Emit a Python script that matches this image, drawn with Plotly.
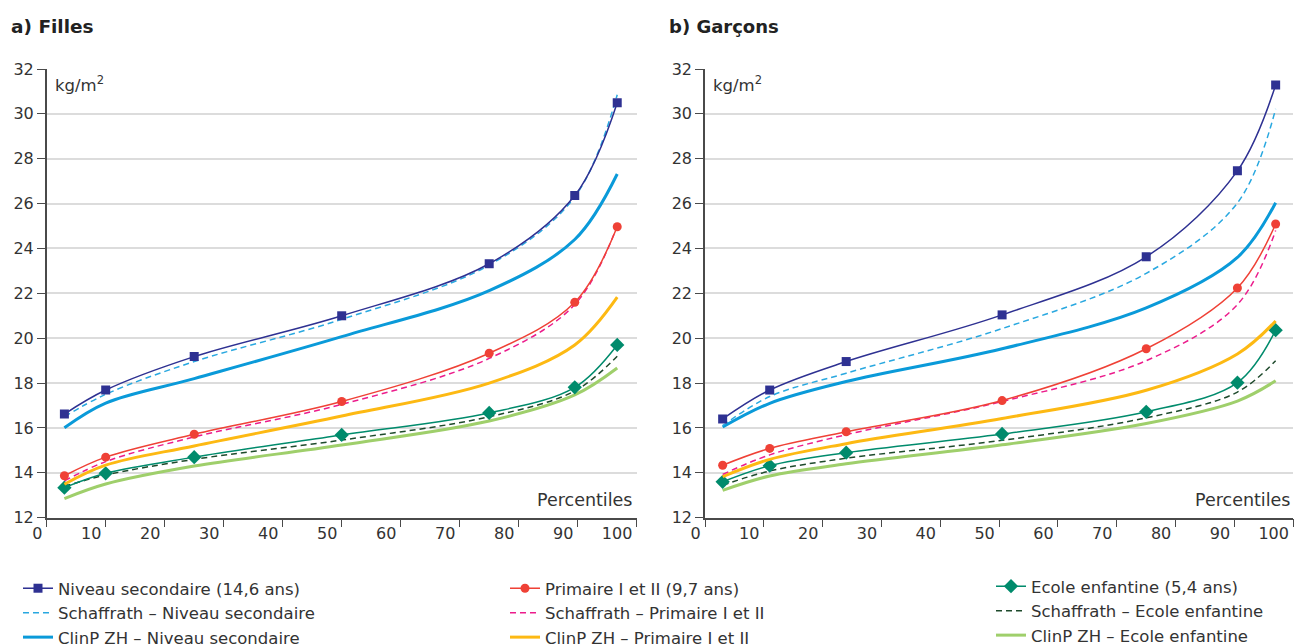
import plotly.graph_objects as go

# Percentile positions of the plotted points
pct_filles = [3, 10, 25, 50, 75, 89.5, 96.7]
pct_garcons = [3, 11, 24, 50.5, 75, 90.5, 97]

# a) Filles - BMI (kg/m2)
f_sec = [16.62, 17.69, 19.18, 21.0, 23.32, 26.36, 30.5]
f_sec_schaffrath = [16.5, 17.5, 18.96, 20.84, 23.26, 26.3, 30.85]
f_sec_clinp = [16.01, 17.11, 18.2, 20.07, 22.12, 24.4, 27.32]
f_prim = [13.87, 14.7, 15.72, 17.18, 19.33, 21.6, 24.97]
f_prim_schaffrath = [13.64, 14.5, 15.6, 17.05, 19.1, 21.5, 25.0]
f_prim_clinp = [13.49, 14.34, 15.2, 16.53, 18.0, 19.7, 21.83]
f_ecole = [13.34, 13.98, 14.7, 15.69, 16.67, 17.81, 19.7]
f_ecole_schaffrath = [13.4, 13.9, 14.6, 15.46, 16.5, 17.65, 19.2]
f_ecole_clinp = [12.85, 13.5, 14.3, 15.24, 16.31, 17.47, 18.67]

# b) Garcons - BMI (kg/m2)
g_sec = [16.4, 17.69, 18.96, 21.04, 23.63, 27.46, 31.29]
g_sec_schaffrath = [16.1, 17.4, 18.44, 20.43, 22.89, 26.03, 30.22]
g_sec_clinp = [16.04, 17.1, 18.07, 19.53, 21.35, 23.6, 26.04]
g_prim = [14.34, 15.09, 15.83, 17.22, 19.53, 22.24, 25.09]
g_prim_schaffrath = [13.93, 14.8, 15.7, 17.18, 19.0, 21.5, 24.8]
g_prim_clinp = [13.83, 14.6, 15.3, 16.42, 17.68, 19.3, 20.77]
g_ecole = [13.6, 14.32, 14.9, 15.73, 16.72, 18.02, 20.36]
g_ecole_schaffrath = [13.45, 14.08, 14.65, 15.45, 16.45, 17.6, 19.0]
g_ecole_clinp = [13.22, 13.86, 14.4, 15.25, 16.2, 17.2, 18.1]

x_ticks = list(range(0, 101, 10))
y_ticks = list(range(12, 33, 2))

names = {
    "sec": "Niveau secondaire (14,6 ans)",
    "sec_s": "Schaffrath – Niveau secondaire",
    "sec_c": "ClinP ZH – Niveau secondaire",
    "prim": "Primaire I et II (9,7 ans)",
    "prim_s": "Schaffrath – Primaire I et II",
    "prim_c": "ClinP ZH – Primaire I et II",
    "ecole": "Ecole enfantine (5,4 ans)",
    "ecole_s": "Schaffrath – Ecole enfantine",
    "ecole_c": "ClinP ZH – Ecole enfantine",
}

FONT = "'DejaVu Sans', sans-serif"
TXT = "#333333"
DASH = "6px,4px"

styles = {
    "sec": dict(color="#2E3192", width=1.5, dash="solid", marker="square", msize=9, legend="legend"),
    "sec_s": dict(color="#29A8E0", width=1.5, dash=DASH, marker=None, legend="legend"),
    "sec_c": dict(color="#0A9AD9", width=3, dash="solid", marker=None, legend="legend"),
    "prim": dict(color="#EF4136", width=1.5, dash="solid", marker="circle", msize=9, legend="legend2"),
    "prim_s": dict(color="#EC1C8C", width=1.5, dash=DASH, marker=None, legend="legend2"),
    "prim_c": dict(color="#FDB913", width=3, dash="solid", marker=None, legend="legend2"),
    "ecole": dict(color="#008B6C", width=1.5, dash="solid", marker="diamond", msize=11, legend="legend3"),
    "ecole_s": dict(color="#1E4A2C", width=1.5, dash=DASH, marker=None, legend="legend3"),
    "ecole_c": dict(color="#9FCF6B", width=3, dash="solid", marker=None, legend="legend3"),
}

panels = [
    ("x", "y", pct_filles, {
        "sec": f_sec, "sec_s": f_sec_schaffrath, "sec_c": f_sec_clinp,
        "prim": f_prim, "prim_s": f_prim_schaffrath, "prim_c": f_prim_clinp,
        "ecole": f_ecole, "ecole_s": f_ecole_schaffrath, "ecole_c": f_ecole_clinp}),
    ("x2", "y2", pct_garcons, {
        "sec": g_sec, "sec_s": g_sec_schaffrath, "sec_c": g_sec_clinp,
        "prim": g_prim, "prim_s": g_prim_schaffrath, "prim_c": g_prim_clinp,
        "ecole": g_ecole, "ecole_s": g_ecole_schaffrath, "ecole_c": g_ecole_clinp}),
]

# draw order: reference curves below the measured ones
order = ["ecole_c", "ecole_s", "ecole", "prim_c", "prim_s", "prim", "sec_c", "sec_s", "sec"]
legend_order = ["sec", "sec_s", "sec_c", "prim", "prim_s", "prim_c", "ecole", "ecole_s", "ecole_c"]

fig = go.Figure()
for pi, (xa, ya, pct, series) in enumerate(panels):
    for key in order:
        st = styles[key]
        mode = "lines+markers" if st["marker"] else "lines"
        tr = dict(
            x=pct, y=series[key], xaxis=xa, yaxis=ya, mode=mode,
            name=names[key], legend=st["legend"],
            legendrank=legend_order.index(key) + 1,
            showlegend=(pi == 0),
            line=dict(color=st["color"], width=st["width"], dash=st["dash"],
                      shape="spline", smoothing=1.0),
            hoverinfo="skip",
        )
        if st["marker"]:
            tr["marker"] = dict(symbol=st["marker"], size=st["msize"], color=st["color"])
        fig.add_trace(go.Scatter(**tr))

W, H = 1306, 644
def px_x(p):
    return p / W
def px_y(p):
    return 1 - p / H

axis_common = dict(
    showline=True, linecolor="#4A4A4A", linewidth=1.5,
    ticks="outside", ticklen=8, tickcolor="#4A4A4A", tickwidth=1.2,
    tickfont=dict(family=FONT, size=16, color=TXT),
    zeroline=False, fixedrange=True, automargin=False,
)
xaxis_common = dict(axis_common, range=[0, 100], tickvals=x_ticks, showgrid=False,
                    ticklabelposition="outside left", ticklabelshift=-3)
yaxis_common = dict(axis_common, range=[12, 32], tickvals=y_ticks, showgrid=True,
                    gridcolor="#DCDCDC", gridwidth=1.5)

ydom = [px_y(517.7), px_y(69)]
fig.update_layout(
    width=W, height=H,
    margin=dict(l=0, r=0, t=0, b=0, autoexpand=False),
    paper_bgcolor="white", plot_bgcolor="white",
    font=dict(family=FONT, size=16, color=TXT),
    xaxis=dict(xaxis_common, domain=[px_x(46.7), px_x(636.7)], anchor="y"),
    yaxis=dict(yaxis_common, domain=ydom, anchor="x"),
    xaxis2=dict(xaxis_common, domain=[px_x(705), px_x(1293.3)], anchor="y2"),
    yaxis2=dict(yaxis_common, domain=ydom, anchor="x2"),
    showlegend=True,
)

legend_common = dict(
    orientation="v", xanchor="left", yanchor="top",
    font=dict(family=FONT, size=16.5, color=TXT),
    bgcolor="rgba(0,0,0,0)", borderwidth=0, tracegroupgap=0,
    traceorder="normal", itemclick=False, itemdoubleclick=False,
)
fig.update_layout(
    legend=dict(legend_common, x=px_x(18), y=px_y(571)),
    legend2=dict(legend_common, x=px_x(505), y=px_y(571)),
    legend3=dict(legend_common, x=px_x(991), y=px_y(569)),
)

annotations = [
    dict(text="<b>a) Filles</b>", x=px_x(9), y=px_y(27), xanchor="left", yanchor="middle",
         font=dict(size=18.5, color="#222222")),
    dict(text="<b>b) Garçons</b>", x=px_x(667), y=px_y(27), xanchor="left", yanchor="middle",
         font=dict(size=18, color="#222222")),
    dict(text="kg/m<sup>2</sup>", x=px_x(53), y=px_y(84), xanchor="left", yanchor="middle",
         font=dict(size=16.5, color=TXT)),
    dict(text="kg/m<sup>2</sup>", x=px_x(711), y=px_y(84), xanchor="left", yanchor="middle",
         font=dict(size=16.5, color=TXT)),
    dict(text="Percentiles", x=px_x(634), y=px_y(500), xanchor="right", yanchor="middle",
         font=dict(size=17.5, color=TXT)),
    dict(text="Percentiles", x=px_x(1292), y=px_y(500), xanchor="right", yanchor="middle",
         font=dict(size=17.5, color=TXT)),
]
for a in annotations:
    a.update(xref="paper", yref="paper", showarrow=False)
    a["font"]["family"] = FONT
fig.update_layout(annotations=annotations)

fig.write_html("out.html", config={"displayModeBar": False})
